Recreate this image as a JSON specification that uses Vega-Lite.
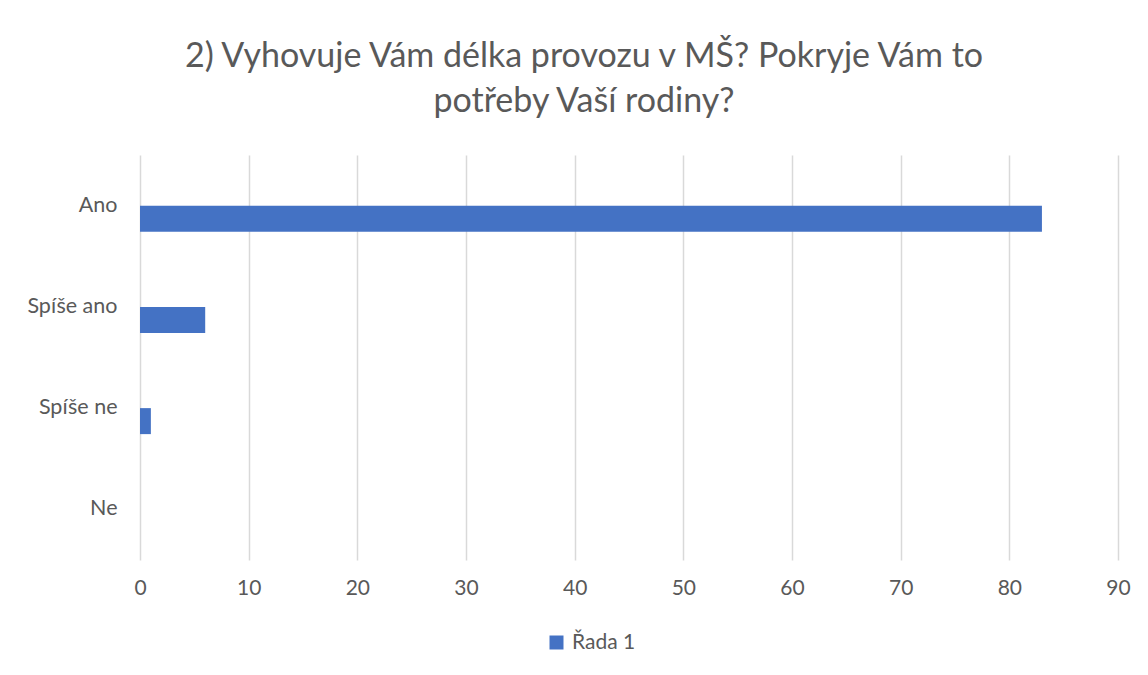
{
  "$schema": "https://vega.github.io/schema/vega-lite/v6.json",
  "width": 978,
  "height": 405,
  "autosize": {"type": "none"},
  "padding": {"left": 140, "top": 155, "right": 30, "bottom": 115},
  "background": "white",
  "title": {
    "text": ["2) Vyhovuje Vám délka provozu v MŠ? Pokryje Vám to", "potřeby Vaší rodiny?"],
    "anchor": "middle",
    "dx": -45,
    "font": "Lato",
    "fontSize": 34,
    "fontWeight": "normal",
    "color": "#595959",
    "lineHeight": 45,
    "offset": 36
  },
  "data": {
    "values": [
      {"kategorie": "Ano", "hodnota": 83, "rada": "Řada 1"},
      {"kategorie": "Spíše ano", "hodnota": 6, "rada": "Řada 1"},
      {"kategorie": "Spíše ne", "hodnota": 1, "rada": "Řada 1"},
      {"kategorie": "Ne", "hodnota": 0, "rada": "Řada 1"}
    ]
  },
  "mark": {"type": "bar", "height": 26, "yOffset": 13},
  "encoding": {
    "y": {
      "field": "kategorie",
      "type": "nominal",
      "sort": ["Ano", "Spíše ano", "Spíše ne", "Ne"],
      "scale": {"paddingInner": 0, "paddingOuter": 0},
      "axis": {
        "title": null,
        "ticks": false,
        "domain": false,
        "grid": false,
        "labelFont": "Lato",
        "labelFontSize": 21.5,
        "labelColor": "#595959",
        "labelPadding": 23
      }
    },
    "x": {
      "field": "hodnota",
      "type": "quantitative",
      "scale": {"domain": [0, 90], "nice": false},
      "axis": {
        "title": null,
        "values": [0, 10, 20, 30, 40, 50, 60, 70, 80, 90],
        "ticks": false,
        "domain": false,
        "grid": true,
        "gridColor": "#d9d9d9",
        "gridWidth": 1.5,
        "labelFont": "Lato",
        "labelFontSize": 21,
        "labelColor": "#595959",
        "labelPadding": 17,
        "labelFlush": false
      }
    },
    "color": {
      "field": "rada",
      "type": "nominal",
      "scale": {"range": ["#4472c4"]},
      "legend": {
        "title": null,
        "orient": "none",
        "legendX": 406,
        "legendY": 477,
        "symbolType": "square",
        "symbolSize": 196,
        "symbolStrokeWidth": 0,
        "labelFont": "Lato",
        "labelFontSize": 21,
        "labelColor": "#595959",
        "labelOffset": 5
      }
    }
  },
  "config": {"view": {"stroke": null}}
}
